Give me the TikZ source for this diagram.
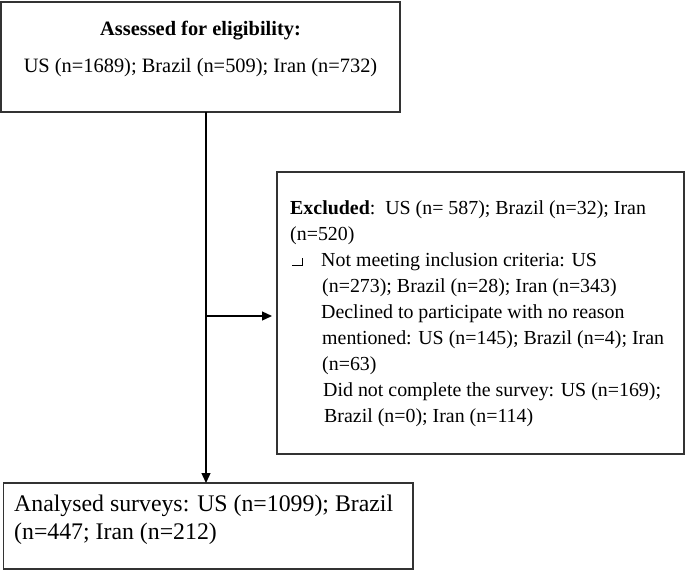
\documentclass[tikz,border=0pt]{standalone}
\usepackage{fontspec}
\setmainfont{Liberation Serif}
\usetikzlibrary{arrows.meta}
\begin{document}
\begin{tikzpicture}[x=1pt,y=-1pt,
  box/.style={draw=black!80,line width=1.4pt},
  conn/.style={draw=black,line width=1.3pt},
  arr/.style={conn,-{Triangle[length=10pt,width=9pt]}},
  txtA/.style={inner sep=0pt,anchor=base,font=\fontsize{20.4}{24}\selectfont},
  txtE/.style={inner sep=0pt,anchor=base west,font=\fontsize{19.9}{24}\selectfont},
  txtB/.style={inner sep=0pt,anchor=base west,font=\fontsize{23.8}{28}\selectfont}]
\useasboundingbox (0,0) rectangle (685,571);
% boxes
\draw[box] (1,2) rectangle (400,112);
\coordinate (topbot) at (206,112);
\draw[box] (277,172) rectangle (684,454);
\draw[box] (3.5,483) rectangle (413,569);
\coordinate (botTop) at (206,483);
\coordinate (split) at (206,316);
\coordinate (exLeft) at (272,316);
% top text
\node[txtA] (t1) at (200.5,35) {\textbf{Assessed for eligibility:}};
\node[txtA] (t2) at (200.5,72) {US (n=1689); Brazil (n=509); Iran (n=732)};
% excluded text
\node[txtE] (e1) at (290,214) {\textbf{Excluded}:\ \ US (n=~587); Brazil (n=32); Iran};
\node[txtE] (e2) at (290,240) {(n=520)};
\node[txtE] (e3) at (321,266) {Not meeting inclusion criteria: US};
\node[txtE] (e4) at (322,292) {(n=273); Brazil (n=28); Iran (n=343)};
\node[txtE] (e5) at (321,318) {Declined to participate with no reason};
\node[txtE] (e6) at (322,344) {mentioned: US (n=145); Brazil (n=4); Iran};
\node[txtE] (e7) at (322,370) {(n=63)};
\node[txtE] (e8) at (323,396) {Did not complete the survey: US (n=169);};
\node[txtE] (e9) at (324,422) {Brazil (n=0); Iran (n=114)};
\draw[line width=0.9pt] (292,265) -- (302,265) -- (302,258);
% bottom text
\node[txtB] (b1) at (14,511) {Analysed surveys: US (n=1099); Brazil};
\node[txtB] (b2) at (14,539) {(n=447; Iran (n=212)};
% connectors
\draw[arr] (topbot) -- (botTop);
\draw[arr] (split) -- (exLeft);
\end{tikzpicture}
\end{document}
